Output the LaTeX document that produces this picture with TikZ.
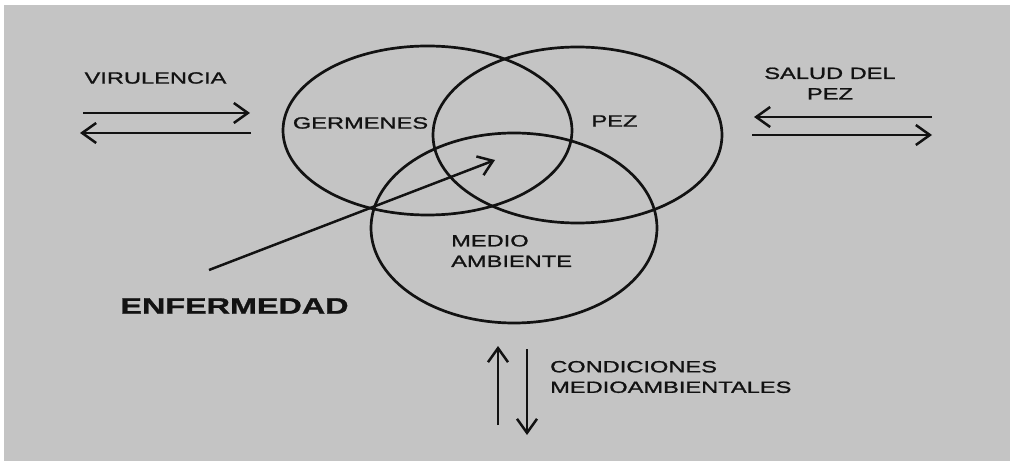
\documentclass[tikz,border=0pt]{standalone}
\usepackage{fontspec}
\usetikzlibrary{arrows.meta}
\newfontfamily\diagfont[FakeStretch=1.45,FakeBold=1.2]{Liberation Sans}
\definecolor{paper}{gray}{0.77}
\definecolor{ink}{gray}{0.07}

\begin{document}
\begin{tikzpicture}[x=1pt,y=1pt,
  ring/.style={draw=ink,line width=2.7pt},
  lbl/.style={inner sep=0pt,text=ink,font=\diagfont\fontsize{16.3}{20.5}\selectfont},
  arr/.style={draw=ink,line width=2.5pt,-{Straight Barb[length=14pt,width=20pt]}}]
% paper with thin white margin
\useasboundingbox (0,0) rectangle (1015,461);
\fill[paper] (4,0) rectangle (1010,456);
% the three circles
\draw[ring] (427.5,330.5) ellipse [x radius=144.5,y radius=84.5];
\draw[ring] (577.5,326) ellipse [x radius=144.5,y radius=88];
\draw[ring] (514,233) ellipse [x radius=143,y radius=95];
% circle labels
\node[lbl] (germenes) at (360.5,338) {GERMENES};
\node[lbl] (pez) at (614.5,340) {PEZ};
\node[lbl,anchor=west,align=left] (medio) at (451,210) {MEDIO\\AMBIENTE};
% virulencia, left
\node[lbl] (virulencia) at (155.5,383) {VIRULENCIA};
\coordinate (vir1) at (83,348);
\coordinate (vir2) at (250,348);
\coordinate (vir3) at (251,328);
\coordinate (vir4) at (80,328);
\draw[arr] (vir1) -- (vir2);
\draw[arr] (vir3) -- (vir4);
% salud del pez, right
\node[lbl,align=center] (salud) at (830,377.5) {SALUD DEL\\PEZ};
\coordinate (sal1) at (932,344);
\coordinate (sal2) at (754,344);
\coordinate (sal3) at (752,326);
\coordinate (sal4) at (932,326);
\draw[arr] (sal1) -- (sal2);
\draw[arr] (sal3) -- (sal4);
% enfermedad
\node[lbl,font=\diagfont\bfseries\fontsize{22.3}{26}\selectfont] (enfermedad) at (234.5,155) {ENFERMEDAD};
\coordinate (enf1) at (209,191);
\coordinate (enf2) at (495,301);
\draw[arr] (enf1) -- (enf2);
% condiciones medioambientales, bottom
\node[lbl,anchor=west,align=left] (condiciones) at (550,84) {CONDICIONES\\MEDIOAMBIENTALES};
\coordinate (con1) at (498,36);
\coordinate (con2) at (498,115);
\coordinate (con3) at (527,112);
\coordinate (con4) at (527,26);
\draw[arr] (con1) -- (con2);
\draw[arr] (con3) -- (con4);
\end{tikzpicture}
\end{document}
